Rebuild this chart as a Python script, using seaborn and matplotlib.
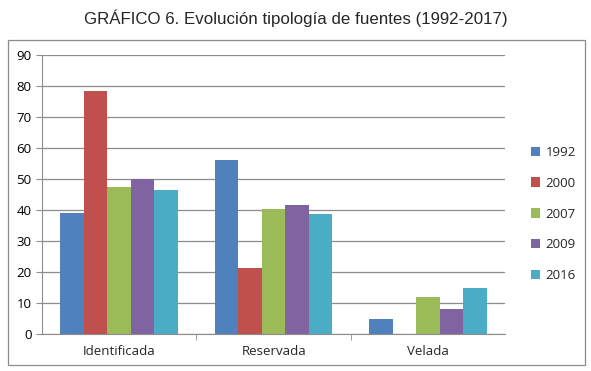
import pandas as pd
import seaborn as sb
import matplotlib.pyplot as plt
from matplotlib.patches import Rectangle
from matplotlib.ticker import FixedLocator

# Datos
categorias = ['Identificada', 'Reservada', 'Velada']
anios = ['1992', '2000', '2007', '2009', '2016']
v1992 = [39.0, 56.0, 4.8]
v2000 = [78.5, 21.3, 0.0]
v2007 = [47.5, 40.4, 11.8]
v2009 = [50.0, 41.6, 8.2]
v2016 = [46.3, 38.7, 15.0]
colores = ['#4F81BD', '#C0504D', '#9BBB59', '#8064A2', '#4BACC6']

series = [v1992, v2000, v2007, v2009, v2016]
filas = []
for anio, vals in zip(anios, series):
    for cat, v in zip(categorias, vals):
        filas.append({'tipo': cat, 'anio': anio, 'valor': v})
df = pd.DataFrame(filas)

sb.set_style('white')
plt.rcParams['font.family'] = ['Open Sans', 'DejaVu Sans']

fig = plt.figure(figsize=(5.91, 3.71), dpi=100)
ax = fig.add_axes([0.071, 0.0997, 0.784, 0.752])

sb.barplot(data=df, x='tipo', y='valor', hue='anio', palette=colores,
           width=0.76, gap=0, ax=ax, saturation=1, errorbar=None, legend=True,
           linewidth=0)

ax.set_ylim(0, 90)
ax.set_yticks(range(0, 91, 10))
ax.set_xlim(-0.5, 2.5)
ax.yaxis.grid(True, color='#8c8c8c', linewidth=0.9)
ax.set_axisbelow(True)
ax.set_xlabel('')
ax.set_ylabel('')
for s in ['top', 'right']:
    ax.spines[s].set_visible(False)
for s in ['left', 'bottom']:
    ax.spines[s].set_color('#8c8c8c')
ax.tick_params(axis='y', labelsize=9.5, colors='#8c8c8c', labelcolor='black',
               length=4, direction='out', left=True)
ax.tick_params(axis='x', labelsize=9.5, length=0, pad=8)
ax.xaxis.set_minor_locator(FixedLocator([0.5, 1.5]))
ax.tick_params(axis='x', which='minor', length=4, color='#8c8c8c', bottom=True)

leg = ax.legend(loc='center left', bbox_to_anchor=(1.03, 0.43), frameon=False,
                fontsize=9.5, handlelength=0.7, handleheight=0.7,
                handletextpad=0.4, labelspacing=1.35)

fig.suptitle('GRÁFICO 6. Evolución tipología de fuentes (1992-2017)',
             family='Liberation Sans', fontsize=12.2, y=0.975)

fig.patches.append(Rectangle((0.0135, 0.016), 0.976, 0.876, transform=fig.transFigure,
                             fill=False, edgecolor='#8c8c8c', linewidth=0.9))

fig.savefig('out.png', dpi=100)
